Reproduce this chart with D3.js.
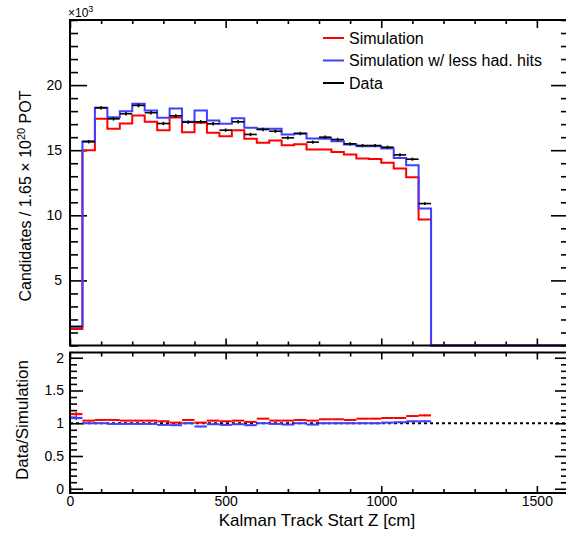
<!DOCTYPE html>
<html>
<head>
<meta charset="utf-8">
<script src="https://cdn.jsdelivr.net/npm/d3@7"></script>
<style>
  html, body { margin: 0; padding: 0; background: #fff; }
  svg { display: block; font-family: "Liberation Sans", Arial, sans-serif; }
</style>
</head>
<body>
<svg id="chart" width="566" height="533"></svg>
<script>
// ---------- data (values in units of 10^3 candidates) ----------
const binEdgesStart = [0,40,80,120,160,200,240,280,320,360,400,440,480,520,560,600,640,680,720,760,
                       800,840,880,920,960,1000,1040,1080,1120,1160,1200,1240,1280,1320,1360,1400,1440,1480,1520,1560];
const binWidth = 40;
const simValues = [1.27,15.0,17.41,16.64,17.05,17.67,17.18,16.54,17.52,16.38,17.1,16.34,16.08,16.54,15.87,15.57,15.75,15.38,15.46,15.05,
                   15.05,14.87,14.67,14.36,14.33,14.03,13.59,12.92,9.67,0,0,0,0,0,0,0,0,0,0,0];
const simLessHadValues = [1.46,15.69,18.26,17.54,18.0,18.57,18.05,17.49,18.2,17.18,18.05,17.28,17.03,17.46,16.72,16.64,16.64,16.21,16.28,15.9,
                   15.87,15.69,15.44,15.31,15.31,15.13,14.41,13.85,10.52,0,0,0,0,0,0,0,0,0,0,0];
const dataValues = [1.45,15.65,18.26,17.41,17.8,18.44,17.88,17.05,17.64,17.15,17.18,17.03,16.54,17.18,16.21,16.59,16.46,15.95,16.28,15.62,
                   16.0,15.82,15.49,15.36,15.36,15.23,14.64,14.31,10.9,0,0,0,0,0,0,0,0,0,0,0];
const dataErrors = [0.04,0.13,0.14,0.13,0.13,0.14,0.13,0.13,0.13,0.13,0.13,0.13,0.13,0.13,0.13,0.13,0.13,0.13,0.13,0.12,
                   0.13,0.13,0.12,0.12,0.12,0.12,0.12,0.12,0.10,0,0,0,0,0,0,0,0,0,0,0];
// ratio panel (Data / Simulation) for the filled bins
const ratioSim = [1.14,1.04,1.05,1.05,1.04,1.04,1.04,1.03,1.01,1.05,1.01,1.04,1.03,1.04,1.02,1.07,1.04,1.04,1.05,1.04,
                  1.06,1.06,1.05,1.07,1.07,1.08,1.08,1.11,1.12];
const ratioSimLessHad = [1.08,1.0,1.0,0.99,0.99,0.99,0.99,0.975,0.97,1.0,0.95,0.985,0.975,0.985,0.97,1.0,0.99,0.98,1.0,0.98,
                  1.0,1.0,1.0,1.0,1.0,1.01,1.015,1.03,1.03];
const ratioErrSim = [0.03,0.01,0.01,0.01,0.01,0.01,0.01,0.01,0.01,0.01,0.01,0.01,0.01,0.01,0.01,0.01,0.01,0.01,0.01,0.01,
                  0.01,0.01,0.01,0.01,0.01,0.01,0.01,0.01,0.015];
const ratioErrLessHad = [0.03,0.01,0.01,0.01,0.01,0.01,0.01,0.01,0.01,0.01,0.01,0.01,0.01,0.01,0.01,0.01,0.01,0.01,0.01,0.01,
                  0.01,0.01,0.01,0.01,0.01,0.01,0.01,0.01,0.015];

const xMajorTicks = [0,500,1000,1500];
const xTickLabels = ["0","500","1000","1500"];
const yTopMajorTicks = [5,10,15,20];
const yTopTickLabels = ["5","10","15","20"];
const yRatioMajorTicks = [0,0.5,1,1.5,2];
const yRatioTickLabels = ["0","0.5","1","1.5","2"];
const legendLabels = ["Simulation","Simulation w/ less had. hits","Data"];
const legendColors = ["#ff0000","#3f3fff","#000000"];

// ---------- layout ----------
const svg = d3.select("#chart");
const X0 = 70, X1 = 568;
const TOP0 = 20, TOP1 = 345.5;
const R0 = 352.5, R1 = 493;
const x = d3.scaleLinear().domain([0,1600]).range([X0,X1]);
const yTop = d3.scaleLinear().domain([0,25]).range([TOP1,TOP0]);
const yRat = d3.scaleLinear().domain([-0.065,2.08]).range([R1,R0]);

const RED = "#ff0000", BLUE = "#3f3fff";
const fontTick = 14, fontTitle = 17;

function range(a,b,s){const r=[];for(let v=a;v<=b+1e-9;v+=s)r.push(+v.toFixed(6));return r;}

function drawAxis(g, axisFn, scale, majors, minors, majorSize, minorSize, labels, pad){
  const minorOnly = minors.filter(m => !majors.some(M => Math.abs(M-m)<1e-9));
  const gm = g.append("g").call(axisFn(scale).tickValues(minorOnly).tickSize(minorSize).tickSizeOuter(0).tickFormat(""));
  const gM = g.append("g").call(axisFn(scale).tickValues(majors).tickSize(majorSize).tickSizeOuter(0)
        .tickPadding(pad||0).tickFormat((d,i)=> labels ? labels[i] : ""));
  [gm,gM].forEach(a=>{
    a.select(".domain").remove();
    a.selectAll("line").attr("stroke","#000").attr("stroke-width",1.6);
    a.selectAll("text").attr("font-size",fontTick).attr("fill","#000").attr("font-family","Liberation Sans, Arial, sans-serif");
  });
  return gM;
}

// ---------- top panel ----------
const topG = svg.append("g");
const xMinor = range(0,1600,100);
drawAxis(topG.append("g").attr("transform",`translate(0,${TOP1})`), d3.axisTop, x, xMajorTicks, xMinor, 7, 4);
drawAxis(topG.append("g").attr("transform",`translate(0,${TOP0})`), d3.axisBottom, x, xMajorTicks, xMinor, 8, 4);
const yTopMinor = range(0,25,1);
drawAxis(topG.append("g").attr("transform",`translate(${X0},0)`), d3.axisLeft, yTop, yTopMajorTicks, yTopMinor, -17, -8, yTopTickLabels, 8);
drawAxis(topG.append("g").attr("transform",`translate(${X1},0)`), d3.axisLeft, yTop, yTopMajorTicks, yTopMinor, 17, 7);

function histPoints(vals){
  const pts = binEdgesStart.map((e,i)=>[e, vals[i]]);
  pts.push([binEdgesStart[binEdgesStart.length-1]+binWidth, vals[vals.length-1]]);
  return pts;
}
const stepLine = (ys) => d3.line().x(d=>x(d[0])).y(d=>ys(d[1])).curve(d3.curveStepAfter);
topG.append("path").attr("d", stepLine(yTop)(histPoints(simValues)))
  .attr("fill","none").attr("stroke",RED).attr("stroke-width",2);
topG.append("path").attr("d", stepLine(yTop)(histPoints(simLessHadValues)))
  .attr("fill","none").attr("stroke",BLUE).attr("stroke-width",2);

const dataIdx = dataValues.map((v,i)=>i).filter(i=>dataValues[i]>0);
const gd = topG.append("g").attr("stroke","#000").attr("stroke-width",1.6);
gd.selectAll("line.h").data(dataIdx).join("line").attr("class","h")
  .attr("x1",i=>x(binEdgesStart[i])).attr("x2",i=>x(binEdgesStart[i]+binWidth))
  .attr("y1",i=>yTop(dataValues[i])).attr("y2",i=>yTop(dataValues[i]));
gd.selectAll("line.v").data(dataIdx).join("line").attr("class","v")
  .attr("x1",i=>x(binEdgesStart[i]+binWidth/2)).attr("x2",i=>x(binEdgesStart[i]+binWidth/2))
  .attr("y1",i=>yTop(dataValues[i]-dataErrors[i])).attr("y2",i=>yTop(dataValues[i]+dataErrors[i]));

topG.append("rect").attr("x",X0).attr("y",TOP0).attr("width",X1-X0).attr("height",TOP1-TOP0)
  .attr("fill","none").attr("stroke","#000").attr("stroke-width",2);

const mult = svg.append("text").attr("x",68).attr("y",17).attr("font-size",12).attr("fill","#000");
mult.append("tspan").text("\u00d710");
mult.append("tspan").attr("dy",-5).attr("font-size",9).text("3");

const yt = svg.append("text").attr("transform",`translate(31,196) rotate(-90)`)
  .attr("text-anchor","middle").attr("font-size",16).attr("fill","#000");
yt.append("tspan").text("Candidates / 1.65 \u00d7 10");
yt.append("tspan").attr("dy",-6).attr("font-size",11).text("20");
yt.append("tspan").attr("dy",6).text(" POT");

const leg = svg.append("g");
legendLabels.forEach((lab,i)=>{
  const cy = 38 + i*22.5;
  leg.append("line").attr("x1",323).attr("x2",344).attr("y1",cy).attr("y2",cy)
    .attr("stroke",legendColors[i]).attr("stroke-width",2);
  leg.append("text").attr("x",349).attr("y",cy+5.5).attr("font-size",16).attr("fill","#000").text(lab);
});

// ---------- ratio panel ----------
const rat = svg.append("g");
drawAxis(rat.append("g").attr("transform",`translate(0,${R1})`), d3.axisBottom, x, xMajorTicks, xMinor, -7, -4, xTickLabels, 3);
drawAxis(rat.append("g").attr("transform",`translate(0,${R0})`), d3.axisBottom, x, xMajorTicks, xMinor, 7, 4);
const yRMinor = range(0,2,0.1);
drawAxis(rat.append("g").attr("transform",`translate(${X0},0)`), d3.axisLeft, yRat, yRatioMajorTicks, yRMinor, -13, -7, yRatioTickLabels, 6);
drawAxis(rat.append("g").attr("transform",`translate(${X1},0)`), d3.axisLeft, yRat, yRatioMajorTicks, yRMinor, 13, 7);

rat.append("line").attr("x1",X0).attr("x2",X1).attr("y1",yRat(1)).attr("y2",yRat(1))
  .attr("stroke","#000").attr("stroke-width",2).attr("stroke-dasharray","3,3");

function drawRatio(vals, errs, color, light){
  const g = rat.append("g");
  g.selectAll("rect").data(vals).join("rect")
    .attr("x",(v,i)=>x(binEdgesStart[i])).attr("width",x(binWidth)-x(0))
    .attr("y",(v,i)=>yRat(v+errs[i])).attr("height",(v,i)=>yRat(v-errs[i])-yRat(v+errs[i]))
    .attr("fill",light).attr("opacity",0.5);
  g.selectAll("line.h").data(vals).join("line").attr("class","h")
    .attr("x1",(v,i)=>x(binEdgesStart[i])).attr("x2",(v,i)=>x(binEdgesStart[i]+binWidth))
    .attr("y1",v=>yRat(v)).attr("y2",v=>yRat(v)).attr("stroke",color).attr("stroke-width",2);
  g.selectAll("line.v").data(vals).join("line").attr("class","v")
    .attr("x1",(v,i)=>x(binEdgesStart[i]+binWidth/2)).attr("x2",(v,i)=>x(binEdgesStart[i]+binWidth/2))
    .attr("y1",(v,i)=>yRat(v-errs[i])).attr("y2",(v,i)=>yRat(v+errs[i])).attr("stroke",color).attr("stroke-width",1.6);
}
drawRatio(ratioSimLessHad, ratioErrLessHad, BLUE, "#c8c8ff");
drawRatio(ratioSim, ratioErrSim, RED, "#ffc8c8");

rat.append("rect").attr("x",X0).attr("y",R0).attr("width",X1-X0).attr("height",R1-R0)
  .attr("fill","none").attr("stroke","#000").attr("stroke-width",2);

svg.append("text").attr("transform",`translate(28,420) rotate(-90)`).attr("text-anchor","middle")
  .attr("font-size",fontTitle).attr("fill","#000").text("Data/Simulation");
svg.append("text").attr("x",(X0+X1)/2-2).attr("y",526).attr("text-anchor","middle")
  .attr("font-size",fontTitle).attr("fill","#000").text("Kalman Track Start Z [cm]");
</script>
</body>
</html>
